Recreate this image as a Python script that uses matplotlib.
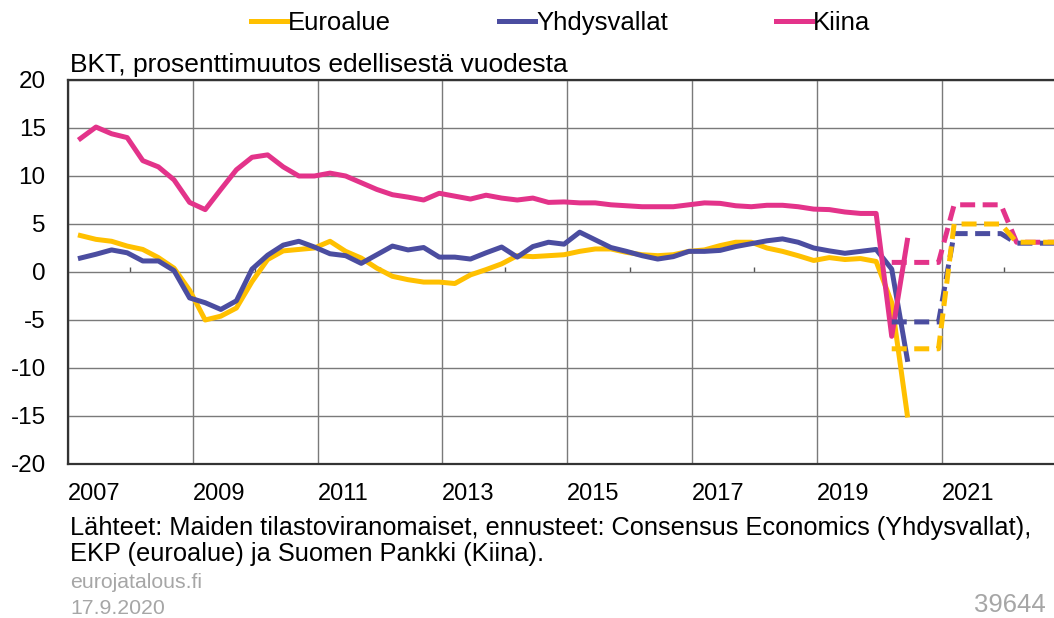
import matplotlib.pyplot as plt
import numpy as np

plt.rcParams['font.family'] = ['Liberation Sans', 'DejaVu Sans']
plt.rcParams['axes.unicode_minus'] = False

# neljännesvuosiluvut 2007Q1 - 2020Q2
euroalue = [3.8, 3.4, 3.2, 2.7,
            2.35, 1.5, 0.4, -1.9,
            -5.0, -4.6, -3.75, -1.0,
            1.3, 2.2, 2.35, 2.5,
            3.2, 2.15, 1.45, 0.4,
            -0.45, -0.8, -1.05, -1.05,
            -1.2, -0.3, 0.25, 0.85,
            1.7, 1.6, 1.7, 1.8,
            2.15, 2.4, 2.4, 2.05,
            1.8, 1.7, 1.8, 2.15,
            2.3, 2.75, 3.1, 3.1,
            2.5, 2.15, 1.7, 1.2,
            1.5, 1.3, 1.4, 1.1,
            -3.2, -14.9]
yhdysvallat = [1.45, 1.85, 2.3, 2.0,
               1.15, 1.15, 0.15, -2.7,
               -3.2, -3.9, -3.0, 0.3,
               1.75, 2.8, 3.2, 2.6,
               1.9, 1.7, 0.9, 1.8,
               2.7, 2.3, 2.55, 1.55,
               1.55, 1.35, 2.0, 2.6,
               1.55, 2.65, 3.1, 2.9,
               4.15, 3.35, 2.55, 2.15,
               1.7, 1.35, 1.6, 2.15,
               2.15, 2.25, 2.65, 2.95,
               3.25, 3.45, 3.1, 2.5,
               2.2, 1.95, 2.15, 2.35,
               0.3, -9.1]
kiina = [13.9, 15.1, 14.4, 14.0,
         11.6, 10.95, 9.6, 7.25,
         6.5, 8.6, 10.65, 11.95,
         12.2, 10.95, 10.0, 10.0,
         10.3, 10.0, 9.3, 8.6,
         8.05, 7.8, 7.5, 8.2,
         7.9, 7.6, 8.0, 7.7,
         7.5, 7.7, 7.25, 7.3,
         7.2, 7.2, 7.0, 6.9,
         6.8, 6.8, 6.8, 7.0,
         7.2, 7.15, 6.9, 6.8,
         6.95, 6.95, 6.8, 6.55,
         6.5, 6.25, 6.1, 6.1,
         -6.7, 3.3]

# ennusteet vuosille 2020-2022
ennuste_vuodet = [2020, 2021, 2022]
euroalue_ennuste = [-8.0, 5.0, 3.1]
yhdysvallat_ennuste = [-5.2, 4.0, 3.0]
kiina_ennuste = [1.0, 7.0, 3.1]

vuosi_tikit = list(range(2007, 2022, 2))

keltainen = '#FFC000'
sininen = '#4B4DA0'
pinkki = '#E3338A'

# neljänneksen paikka x-akselilla
nelj = [(v, q) for v in range(2007, 2021) for q in range(1, 5)][:len(euroalue)]
x = np.array([v + q / 4 - 0.05 for v, q in nelj])
x_enn = np.array([v + q / 4 - 0.05 for v in ennuste_vuodet for q in range(1, 5)])

fig = plt.figure(figsize=(10.54, 6.18), dpi=100)
ax = fig.add_axes([67.9 / 1054, 1 - 464 / 618, 1 - 67.9 / 1054, 384 / 618])

lw = 3.6
ax.plot(x, euroalue, color=keltainen, lw=lw, label='Euroalue', zorder=3)
ax.plot(x, yhdysvallat, color=sininen, lw=lw, label='Yhdysvallat', zorder=3)
ax.plot(x, kiina, color=pinkki, lw=lw, label='Kiina', zorder=3)
ax.plot(x_enn, np.repeat(kiina_ennuste, 4), color=pinkki, lw=lw, ls=(0, (3, 1.5)), zorder=3)
ax.plot(x_enn, np.repeat(yhdysvallat_ennuste, 4), color=sininen, lw=lw, ls=(0, (3, 1.5)), zorder=3)
ax.plot(x_enn, np.repeat(euroalue_ennuste, 4), color=keltainen, lw=lw, ls=(0, (3, 1.5)), zorder=3)

ax.set_xlim(2007, 2022.8)
ax.set_ylim(-20, 20)
ax.set_yticks(np.arange(-20, 21, 5))
ax.set_xticks(vuosi_tikit)
ax.set_xticklabels([str(v) for v in vuosi_tikit])
for t in ax.get_xticklabels():
    t.set_ha('left')
ax.tick_params(axis='both', length=0, labelsize=17)
ax.tick_params(axis='y', labelsize=17.5)
ax.tick_params(axis='x', pad=14)
ax.tick_params(axis='y', pad=16)
ax.grid(True, color='#7a7a7a', lw=1.0, zorder=1)
for s in ['left', 'top', 'bottom']:
    ax.spines[s].set_color('#333333')
    ax.spines[s].set_linewidth(1.6)
ax.spines['right'].set_visible(False)

# pienet tikit nollaviivalla
sec = ax.secondary_xaxis(0.5)
sec.set_xticks(range(2008, 2023, 2))
sec.tick_params(length=3.5, width=1, color='#555555', labeltop=False, labelbottom=False)
sec.spines[:].set_visible(False)

fig.legend(loc='center left', bbox_to_anchor=(251 / 1054, 1 - 23 / 618), ncol=3, frameon=False,
           fontsize=18.5, handlelength=1.4, handletextpad=0.05, columnspacing=4.2,
           borderpad=0, borderaxespad=0)

fig.text(70 / 1054, 1 - 72 / 618, 'BKT, prosenttimuutos edellisestä vuodesta', fontsize=19, va='baseline')
fig.text(70 / 1054, 1 - 528 / 618,
         'Lähteet: Maiden tilastoviranomaiset, ennusteet: Consensus Economics (Yhdysvallat),',
         fontsize=18.3, va='center')
fig.text(70 / 1054, 1 - 554 / 618, 'EKP (euroalue) ja Suomen Pankki (Kiina).', fontsize=18.3, va='center')
fig.text(70 / 1054, 1 - 583 / 618, 'eurojatalous.fi', fontsize=15.3, color='#a6a6a6', va='center')
fig.text(70 / 1054, 1 - 608 / 618, '17.9.2020', fontsize=15.3, color='#a6a6a6', va='center')
fig.text(1046 / 1054, 1 - 612 / 618, '39644', fontsize=18.5, color='#a6a6a6', va='baseline', ha='right')

fig.savefig('out.png', dpi=100)
